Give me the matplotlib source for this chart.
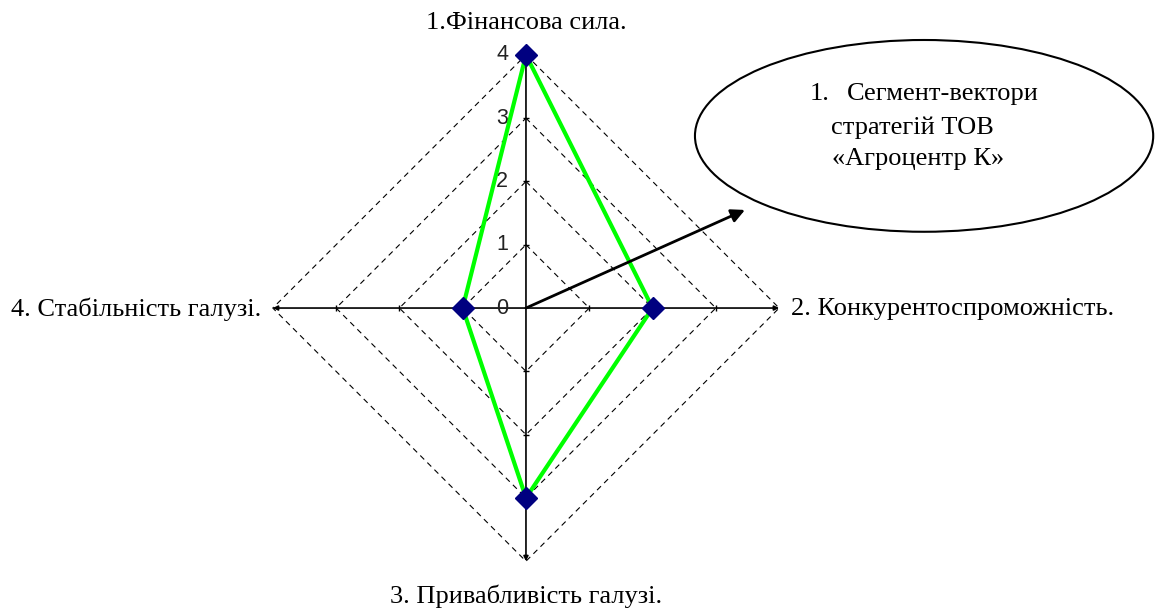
import numpy as np
import matplotlib.pyplot as plt
from matplotlib.patches import Ellipse

# Axes of the segment-vector diagram (top, right, bottom, left)
labels = ['1.Фінансова сила.', '2. Конкурентоспроможність.',
          '3. Привабливість галузі.', '4. Стабільність галузі.']
values = [4, 2, 3, 1]
rings = [1, 2, 3, 4]
tick_labels = ['0', '1', '2', '3', '4']
note_lines = ['стратегій ТОВ', '«Агроцентр К»']

# directions of the 4 axes: up, right, down, left
dirs = np.array([[0, 1], [1, 0], [0, -1], [-1, 0]])
rmax = max(rings)

fig = plt.figure(figsize=(11.57, 6.10), dpi=100)
ax = fig.add_axes([0, 0, 1, 1])
ax.set_xlim(-8.31, 9.97)
ax.set_ylim(-4.77, 4.866)
ax.set_aspect('equal')
ax.axis('off')

serif = 'Liberation Serif'
fs = 19

# dashed diamonds
for r in rings:
    pts = np.vstack([dirs * r, dirs[:1] * r])
    ax.plot(pts[:, 0], pts[:, 1], color='black', lw=0.8,
            linestyle=(0, (5, 4)), zorder=1)

# axis lines with small arrow heads
for d in dirs:
    ax.annotate('', xy=(d[0] * rmax, d[1] * rmax), xytext=(0, 0),
                arrowprops=dict(arrowstyle='-|>', color='black', lw=1.2,
                                mutation_scale=7, shrinkA=0, shrinkB=0),
                zorder=2)
    for r in rings[:-1]:
        ax.plot(d[0] * r, d[1] * r, marker='|' if d[1] == 0 else '_',
                color='black', ms=4, mew=1, zorder=2)

# tick labels on the top axis
for i, t in enumerate(tick_labels):
    ax.text(-0.28, i, t, ha='right', va='center', fontsize=15.5,
            family='Liberation Sans', color='#222222', zorder=3)

# profile polygon
pts = dirs * np.array(values)[:, None]
poly = np.vstack([pts, pts[:1]])
ax.plot(poly[:, 0], poly[:, 1], color='#00ff00', lw=3, zorder=4)
ax.plot(pts[:, 0], pts[:, 1], linestyle='none', marker='D', ms=11,
        color='#000080', zorder=5)

# axis titles
ax.text(0, 4.5, labels[0], ha='center', va='center', fontsize=fs, family=serif)
ax.text(4.18, -0.02, labels[1], ha='left', va='center', fontsize=fs, family=serif)
ax.text(0, -4.55, labels[2], ha='center', va='center', fontsize=fs, family=serif)
ax.text(-4.18, -0.02, labels[3], ha='right', va='center', fontsize=fs, family=serif)

# callout ellipse with arrow
ax.add_patch(Ellipse((6.29, 2.72), 7.24, 3.03, facecolor='white',
                     edgecolor='black', lw=1.5, zorder=6))
ax.annotate('', xy=(3.46, 1.55), xytext=(0, 0),
            arrowprops=dict(arrowstyle='-|>', color='black', lw=2,
                            mutation_scale=20, shrinkA=0, shrinkB=0),
            zorder=7)
ax.text(4.64, 3.38, '1.', ha='center', va='center', fontsize=fs, family=serif, zorder=8)
ax.text(6.59, 3.38, 'Сегмент-вектори', ha='center', va='center', fontsize=fs,
        family=serif, zorder=8)
ax.text(6.1, 2.85, note_lines[0], ha='center', va='center', fontsize=fs,
        family=serif, zorder=8)
ax.text(6.19, 2.35, note_lines[1], ha='center', va='center', fontsize=fs,
        family=serif, zorder=8)

fig.savefig('out.png', dpi=100)
